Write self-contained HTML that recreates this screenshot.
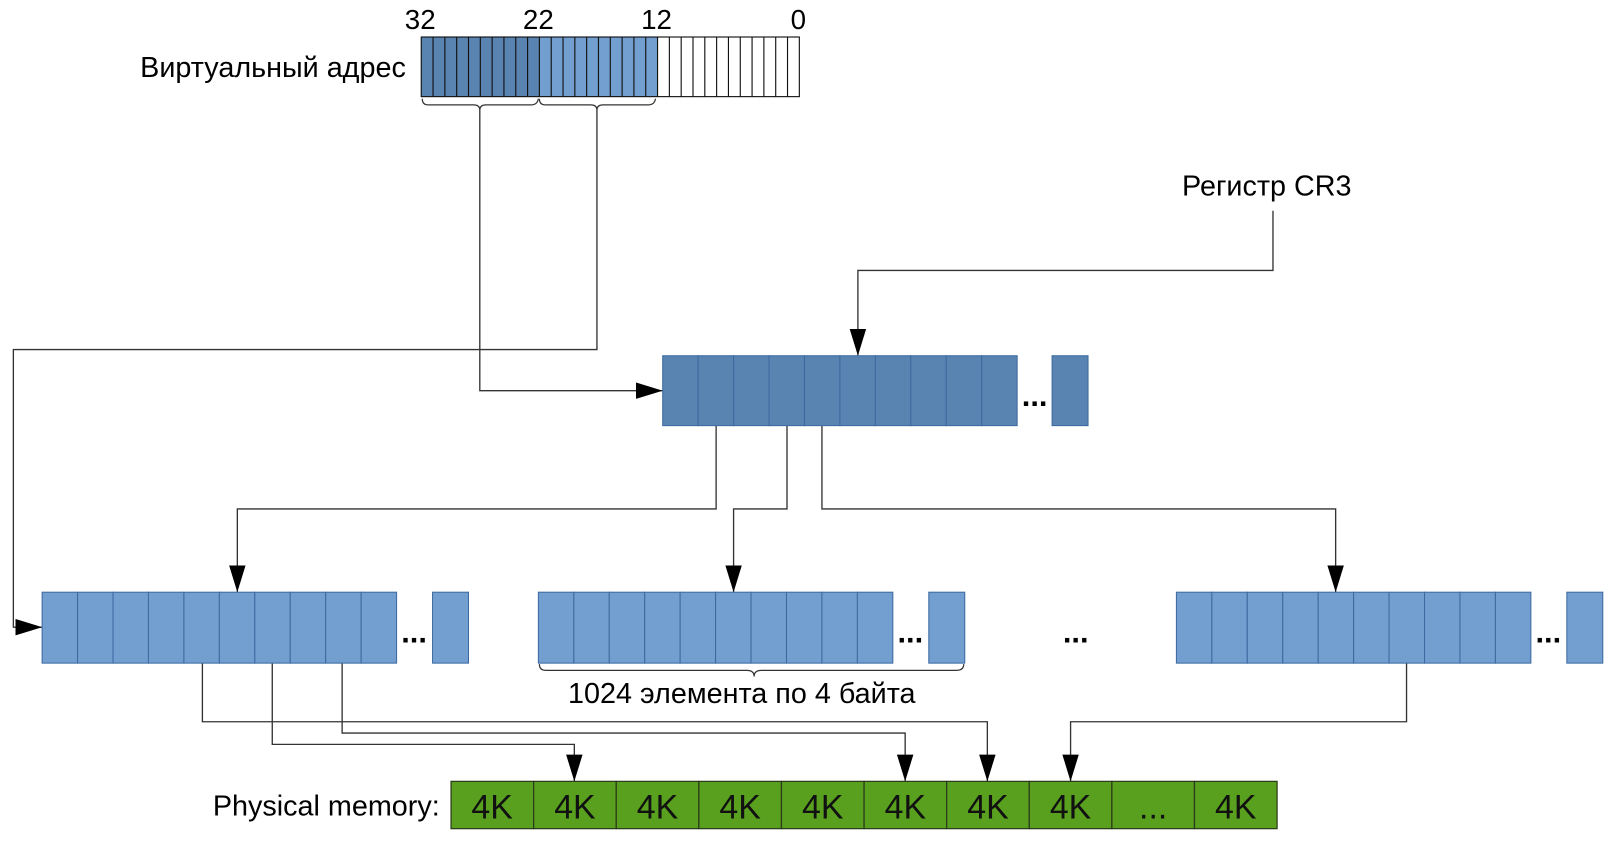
<!DOCTYPE html>
<html><head><meta charset="utf-8"><style>
html,body{margin:0;padding:0;background:#fff;}
svg{display:block;}
text{font-family:"Liberation Sans","DejaVu Sans",sans-serif;}
</style></head><body>
<svg width="1611" height="841" viewBox="0 0 1568 818" preserveAspectRatio="none" xmlns="http://www.w3.org/2000/svg">
<defs>
<marker id="a" viewBox="0 0 26 16" refX="26" refY="8" markerWidth="26" markerHeight="16" markerUnits="userSpaceOnUse" orient="auto">
<path d="M0,0 L26,8 L0,16 Z" fill="#000"/>
</marker>
</defs>
<rect width="1568" height="818" fill="#fff"/>

<g font-size="27" fill="#000" text-anchor="middle">
<text x="409" y="28">32</text>
<text x="524" y="28">22</text>
<text x="639" y="28">12</text>
<text x="777" y="28">0</text>
</g>
<text x="395" y="75" font-size="28" text-anchor="end">Виртуальный адрес</text>

<rect x="410" y="36" width="115" height="58" fill="#5983b0"/>
<rect x="525" y="36" width="115" height="58" fill="#729fcf"/>
<rect x="640" y="36" width="138" height="58" fill="#fff"/>
<g stroke="#111" stroke-width="1.1">
<path d="M421.5,36V94M433,36V94M444.5,36V94M456,36V94M467.5,36V94M479,36V94M490.5,36V94M502,36V94M513.5,36V94M525,36V94M536.5,36V94M548,36V94M559.5,36V94M571,36V94M582.5,36V94M594,36V94M605.5,36V94M617,36V94M628.5,36V94M640,36V94M651.5,36V94M663,36V94M674.5,36V94M686,36V94M697.5,36V94M709,36V94M720.5,36V94M732,36V94M743.5,36V94M755,36V94M766.5,36V94"/>
<rect x="410" y="36" width="368" height="58" fill="none"/>
</g>
<g fill="none" stroke="#333" stroke-width="1.2">
<path d="M411,96 q0,6 6,6 h44 q6,0 6,5 q0,-5 6,-5 h44 q6,0 7,-6"/>
<path d="M525,96 q0,6 6,6 h44 q6,0 6,5 q0,-5 6,-5 h44 q6,0 7,-6"/>
</g>

<g fill="none" stroke="#333" stroke-width="1.3">
<path d="M467,107 V380 H645" marker-end="url(#a)"/>
<path d="M581,107 V340 H13 V610 H41" marker-end="url(#a)"/>
<path d="M1239,205 V263 H835 V346" marker-end="url(#a)"/>
<path d="M697,414 V495 H231 V576" marker-end="url(#a)"/>
<path d="M766,414 V495 H714 V576" marker-end="url(#a)"/>
<path d="M800,414 V495 H1300 V576" marker-end="url(#a)"/>
<path d="M197,645 V702 H961 V760" marker-end="url(#a)"/>
<path d="M265,645 V724 H559 V760" marker-end="url(#a)"/>
<path d="M333,645 V713 H881 V760" marker-end="url(#a)"/>
<path d="M1369,645 V702 H1042 V760" marker-end="url(#a)"/>
</g>

<text x="1233" y="190" font-size="28" text-anchor="middle">Регистр CR3</text>

<g fill="#5983b0" stroke="#3c6aa0" stroke-width="1">
<rect x="645" y="346" width="34.5" height="68"/><rect x="679.5" y="346" width="34.5" height="68"/><rect x="714" y="346" width="34.5" height="68"/><rect x="748.5" y="346" width="34.5" height="68"/><rect x="783" y="346" width="34.5" height="68"/><rect x="817.5" y="346" width="34.5" height="68"/><rect x="852" y="346" width="34.5" height="68"/><rect x="886.5" y="346" width="34.5" height="68"/><rect x="921" y="346" width="34.5" height="68"/><rect x="955.5" y="346" width="34.5" height="68"/>
<rect x="1024" y="346" width="35" height="68"/>
</g>
<text x="1007" y="395" font-size="30" font-weight="bold" text-anchor="middle">...</text>

<g fill="#729fcf" stroke="#3c6aa0" stroke-width="1">
<rect x="41" y="576" width="34.5" height="69"/><rect x="75.5" y="576" width="34.5" height="69"/><rect x="110" y="576" width="34.5" height="69"/><rect x="144.5" y="576" width="34.5" height="69"/><rect x="179" y="576" width="34.5" height="69"/><rect x="213.5" y="576" width="34.5" height="69"/><rect x="248" y="576" width="34.5" height="69"/><rect x="282.5" y="576" width="34.5" height="69"/><rect x="317" y="576" width="34.5" height="69"/><rect x="351.5" y="576" width="34.5" height="69"/>
<rect x="421" y="576" width="35" height="69"/>
<rect x="524" y="576" width="34.5" height="69"/><rect x="558.5" y="576" width="34.5" height="69"/><rect x="593" y="576" width="34.5" height="69"/><rect x="627.5" y="576" width="34.5" height="69"/><rect x="662" y="576" width="34.5" height="69"/><rect x="696.5" y="576" width="34.5" height="69"/><rect x="731" y="576" width="34.5" height="69"/><rect x="765.5" y="576" width="34.5" height="69"/><rect x="800" y="576" width="34.5" height="69"/><rect x="834.5" y="576" width="34.5" height="69"/>
<rect x="904" y="576" width="35" height="69"/>
<rect x="1145" y="576" width="34.5" height="69"/><rect x="1179.5" y="576" width="34.5" height="69"/><rect x="1214" y="576" width="34.5" height="69"/><rect x="1248.5" y="576" width="34.5" height="69"/><rect x="1283" y="576" width="34.5" height="69"/><rect x="1317.5" y="576" width="34.5" height="69"/><rect x="1352" y="576" width="34.5" height="69"/><rect x="1386.5" y="576" width="34.5" height="69"/><rect x="1421" y="576" width="34.5" height="69"/><rect x="1455.5" y="576" width="34.5" height="69"/>
<rect x="1525" y="576" width="35" height="69"/>
</g>
<g font-size="30" font-weight="bold" text-anchor="middle">
<text x="403" y="625">...</text>
<text x="886" y="625">...</text>
<text x="1047" y="625">...</text>
<text x="1507" y="625">...</text>
</g>
<path d="M525,646 q0,6 6,6 h196 q7,0 7,6 q0,-6 7,-6 h190 q7,0 7,-6" fill="none" stroke="#333" stroke-width="1.2"/>
<text x="722" y="684" font-size="28" text-anchor="middle">1024 элемента по 4 байта</text>

<text x="428" y="793" font-size="28" text-anchor="end">Physical memory:</text>
<g fill="#58a01e" stroke="#2a3a1a" stroke-width="1.2">
<rect x="439" y="760" width="80.4" height="46"/><rect x="519.4" y="760" width="80.4" height="46"/><rect x="599.8" y="760" width="80.4" height="46"/><rect x="680.2" y="760" width="80.4" height="46"/><rect x="760.6" y="760" width="80.4" height="46"/><rect x="841" y="760" width="80.4" height="46"/><rect x="921.4" y="760" width="80.4" height="46"/><rect x="1001.8" y="760" width="80.4" height="46"/><rect x="1082.2" y="760" width="80.4" height="46"/><rect x="1162.6" y="760" width="80.4" height="46"/>
</g>
<g font-size="33" text-anchor="middle" fill="#111">
<text x="479" y="796">4K</text><text x="559.6" y="796">4K</text><text x="640" y="796">4K</text><text x="720.4" y="796">4K</text><text x="800.8" y="796">4K</text><text x="881.2" y="796">4K</text><text x="961.6" y="796">4K</text><text x="1042" y="796">4K</text><text x="1122.4" y="796">...</text><text x="1202.8" y="796">4K</text>
</g>
</svg>
</body></html>
